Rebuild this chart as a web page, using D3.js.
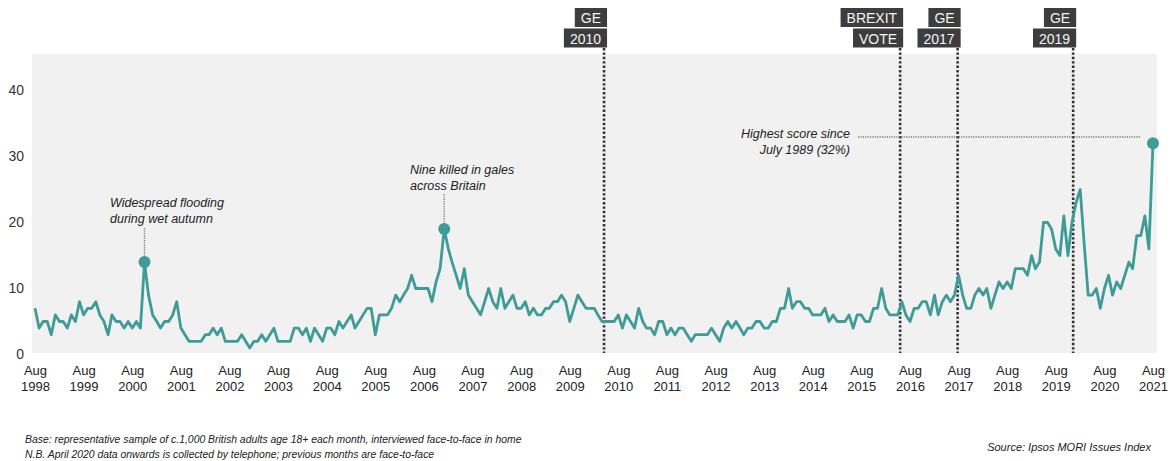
<!DOCTYPE html>
<html>
<head>
<meta charset="utf-8">
<script src="https://cdn.jsdelivr.net/npm/d3@7"></script>
<style>
  body { margin: 0; background: #fff; }
  svg { font-family: "Liberation Sans", Arial, sans-serif; }
</style>
</head>
<body>
<svg width="1174" height="461"></svg>
<script>
// monthly scores, Aug 1998 -> Aug 2021
const startMonth = new Date(1998, 7, 1);
const scores = [
  7, 4, 5, 5, 3, 6, 5, 5, 4, 6, 5, 8, 6, 7, 7, 8, 6, 5, 3, 6,
  5, 5, 4, 5, 4, 5, 4, 14, 9, 6, 5, 4, 5, 5, 6, 8, 4, 3, 2, 2,
  2, 2, 3, 3, 4, 3, 4, 2, 2, 2, 2, 3, 2, 1, 2, 2, 3, 2, 3, 4,
  2, 2, 2, 2, 4, 4, 3, 4, 2, 4, 3, 2, 4, 4, 3, 5, 4, 5, 6, 4,
  5, 6, 7, 7, 3, 6, 6, 6, 7, 9, 8, 9, 10, 12, 10, 10, 10, 10, 8, 11,
  13, 19, 16, 14, 12, 10, 13, 9, 8, 7, 6, 8, 10, 8, 7, 10, 7, 8, 9, 7,
  7, 8, 6, 7, 6, 6, 7, 7, 8, 8, 9, 8, 5, 7, 9, 8, 7, 7, 7, 6,
  5, 5, 5, 5, 6, 4, 6, 5, 4, 7, 5, 4, 4, 3, 5, 5, 3, 4, 3, 4,
  4, 3, 2, 3, 3, 3, 3, 4, 3, 2, 4, 5, 4, 5, 4, 3, 4, 4, 5, 5,
  4, 4, 5, 5, 7, 7, 10, 7, 8, 8, 7, 7, 6, 6, 6, 7, 5, 6, 5, 5,
  5, 6, 4, 6, 6, 5, 5, 7, 7, 10, 7, 6, 6, 6, 8, 6, 5, 7, 7, 8,
  8, 6, 9, 6, 8, 9, 8, 9, 12, 9, 7, 7, 9, 10, 9, 10, 7, 9, 11, 10,
  11, 10, 13, 13, 13, 12, 15, 13, 14, 20, 20, 19, 16, 15, 21, 15, 20, 23, 25, 17,
  9, 9, 10, 7, 10, 12, 9, 11, 10, 12, 14, 13, 18, 18, 21, 16, 32
];
const yTicks = [0, 10, 20, 30, 40];
const tickYears = d3.range(1998, 2022);

// event markers (vertical dotted lines + dark boxes)
const eventDates = ["2010-04-16", "2016-05-19", "2017-07-25", "2019-12-10"];
const eventLines1 = ["GE", "BREXIT", "GE", "GE"];
const eventLines2 = ["2010", "VOTE", "2017", "2019"];

// highlighted points: month index and notes
const noteIdx = [27, 101, 276];
const noteText = [
  ["Widespread flooding", "during wet autumn"],
  ["Nine killed in gales", "across Britain"],
  ["Highest score since", "July 1989 (32%)"]
];

const footLeft = [
  "Base: representative sample of c.1,000 British adults age 18+ each month, interviewed face-to-face in home",
  "N.B. April 2020 data onwards is collected by telephone; previous months are face-to-face"
];
const footRight = "Source: Ipsos MORI Issues Index";

const teal = "#3f9b98";

let data = scores.map((v, i) => ({ date: d3.timeMonth.offset(startMonth, i), value: v }));

var svg = d3.select("svg");

var x = d3.scaleTime()
  .domain([startMonth, d3.timeMonth.offset(startMonth, scores.length - 1)])
  .range([35, 1153]);

var y = d3.scaleLinear()
  .domain([0, 40])
  .range([354.5, 90.5]);

// grey plot panel
svg.append("rect")
  .attr("x", 32).attr("y", 54)
  .attr("width", 1125).attr("height", 299)
  .attr("fill", "#f1f1f1");

// y axis
let yAxis = svg.append("g")
  .attr("transform", "translate(32,0)")
  .call(d3.axisLeft(y).tickValues(yTicks).tickSize(0).tickPadding(8));
yAxis.select(".domain").remove();
yAxis.selectAll("text")
  .attr("font-size", 14)
  .attr("font-family", "Liberation Sans, Arial, sans-serif")
  .attr("fill", "#333");

// x axis, two line labels
let xAxis = svg.append("g")
  .attr("transform", "translate(0,354)")
  .call(d3.axisBottom(x)
    .tickValues(tickYears.map(yr => new Date(yr, 7, 1)))
    .tickSize(0)
    .tickFormat(""));
xAxis.select(".domain").remove();
xAxis.selectAll(".tick text").each(function (d) {
  let t = d3.select(this)
    .attr("dy", null)
    .attr("y", 0)
    .attr("font-size", 13)
    .attr("font-family", "Liberation Sans, Arial, sans-serif")
    .attr("fill", "#222");
  t.append("tspan").attr("x", 0).attr("y", 21).text("Aug");
  t.append("tspan").attr("x", 0).attr("y", 37).text(d.getFullYear());
});

// event lines
eventDates.forEach((ds, i) => {
  let ex = x(new Date(ds));
  svg.append("line")
    .attr("x1", ex).attr("x2", ex)
    .attr("y1", 48).attr("y2", 353)
    .attr("stroke", "#333")
    .attr("stroke-width", 2.6)
    .attr("stroke-dasharray", "2.4,2");

  [eventLines1[i], eventLines2[i]].forEach((txt, row) => {
    let top = row === 0 ? 8 : 28.5;
    let g = svg.append("g");
    let rect = g.append("rect").attr("fill", "#3d3d3d");
    let label = g.append("text")
      .attr("x", ex - 3)
      .attr("y", top + 15)
      .attr("text-anchor", "end")
      .attr("font-size", 14)
      .attr("fill", "#f4f4f4")
      .text(txt);
    let w = label.node().getComputedTextLength();
    rect.attr("x", ex + 3 - w - 12).attr("y", top)
      .attr("width", w + 12).attr("height", 19);
  });
});

// the line
svg.append("path")
  .datum(data)
  .attr("fill", "none")
  .attr("stroke", teal)
  .attr("stroke-width", 2.8)
  .attr("stroke-linejoin", "round")
  .attr("d", d3.line().x(d => x(d.date)).y(d => y(d.value)));

// leader lines for notes
let leader = svg.append("g")
  .attr("stroke", "#777")
  .attr("stroke-width", 1.4)
  .attr("stroke-dasharray", "1.2,1.2");

let p0 = data[noteIdx[0]], p1 = data[noteIdx[1]], p2 = data[noteIdx[2]];
leader.append("line")
  .attr("x1", x(p0.date)).attr("x2", x(p0.date))
  .attr("y1", 228).attr("y2", y(p0.value));
leader.append("line")
  .attr("x1", x(p1.date)).attr("x2", x(p1.date))
  .attr("y1", 194).attr("y2", y(p1.value));
leader.append("line")
  .attr("x1", 858).attr("x2", 1140)
  .attr("y1", 137).attr("y2", 137);

// markers
svg.append("g").selectAll("circle")
  .data(noteIdx.map(i => data[i]))
  .enter().append("circle")
  .attr("cx", d => x(d.date))
  .attr("cy", d => y(d.value))
  .attr("r", 6)
  .attr("fill", teal);

// note texts
let notes = svg.append("g")
  .attr("font-size", 12.5)
  .attr("font-style", "italic")
  .attr("fill", "#222");

function addNote(lines, tx, ty, anchor) {
  lines.forEach((l, k) => {
    notes.append("text")
      .attr("x", tx).attr("y", ty + k * 15.5)
      .attr("text-anchor", anchor)
      .text(l);
  });
}
addNote(noteText[0], 110, 207, "start");
addNote(noteText[1], 410, 174, "start");
addNote(noteText[2], 850, 138, "end");

// footer
footLeft.forEach((l, k) => {
  svg.append("text")
    .attr("x", 25).attr("y", 443 + k * 15)
    .attr("font-size", 10.4)
    .attr("font-style", "italic")
    .attr("fill", "#222")
    .text(l);
});
svg.append("text")
  .attr("x", 1151).attr("y", 451)
  .attr("text-anchor", "end")
  .attr("font-size", 11)
  .attr("font-style", "italic")
  .attr("fill", "#222")
  .text(footRight);
</script>
</body>
</html>
